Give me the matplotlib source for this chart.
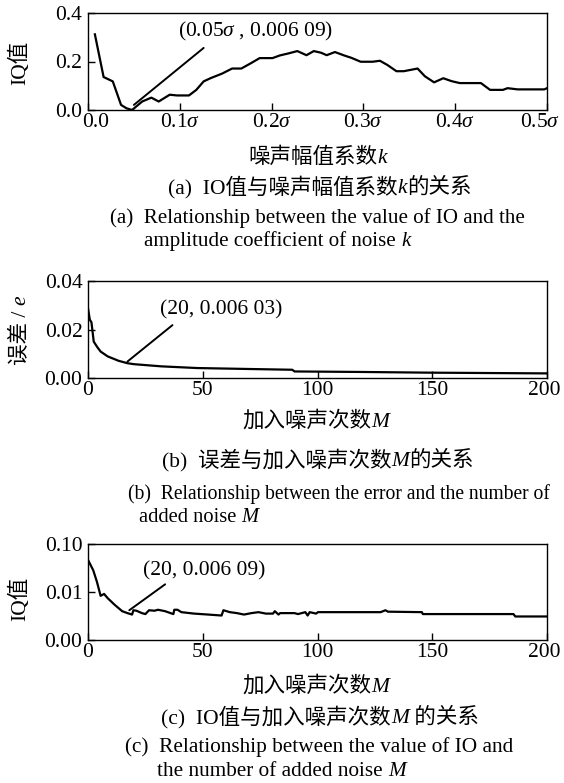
import matplotlib
matplotlib.use('Agg')
import matplotlib.pyplot as plt
from matplotlib.transforms import ScaledTranslation

W, H = 564, 783
FAMILY = ['Liberation Serif', 'Noto Sans CJK SC']
plt.rcParams['font.family'] = FAMILY
plt.rcParams['mathtext.fontset'] = 'custom'
plt.rcParams['mathtext.rm'] = 'Liberation Serif'
plt.rcParams['mathtext.it'] = 'Liberation Serif:italic'

FS = 15.5

# (a) IQ value vs noise amplitude coefficient k (in units of sigma)
k_vals = [0.0075, 0.017, 0.027, 0.036, 0.042, 0.048, 0.059, 0.069, 0.077, 0.089,
          0.097, 0.11, 0.118, 0.126, 0.134, 0.146, 0.157, 0.167, 0.177, 0.187,
          0.201, 0.209, 0.218, 0.228, 0.238, 0.246, 0.254, 0.26, 0.269, 0.279,
          0.287, 0.297, 0.31, 0.318, 0.326, 0.336, 0.344, 0.359, 0.367, 0.377,
          0.387, 0.396, 0.405, 0.428, 0.438, 0.452, 0.457, 0.468, 0.497, 0.5]
iq_k = [0.312, 0.136, 0.118, 0.021, 0.007, 0.0, 0.035, 0.051, 0.035, 0.063,
        0.06, 0.06, 0.083, 0.118, 0.132, 0.15, 0.171, 0.171, 0.192, 0.214,
        0.214, 0.225, 0.233, 0.243, 0.226, 0.243, 0.236, 0.226, 0.239, 0.225,
        0.215, 0.199, 0.199, 0.203, 0.186, 0.16, 0.16, 0.171, 0.139, 0.114,
        0.131, 0.119, 0.111, 0.111, 0.083, 0.083, 0.09, 0.085, 0.085, 0.09]
k_ticks = [0.0, 0.1, 0.2, 0.3, 0.4, 0.5]
k_labels = ['0.0', r'0.1$\sigma$', r'0.2$\sigma$', r'0.3$\sigma$', r'0.4$\sigma$', r'0.5$\sigma$']

# (b) error vs number of added noise M
m_err = [0, 0.8, 1.5, 2.5, 4, 5.5, 8.6, 13.3, 17.2, 20, 32, 47.7, 71, 89, 90, 118, 149, 200]
err = [0.0287, 0.024, 0.023, 0.015, 0.0128, 0.0109, 0.0089, 0.0071, 0.0061, 0.0057,
       0.0048, 0.0041, 0.0037, 0.0034, 0.0027, 0.0025, 0.0022, 0.0019]

# (c) IQ value vs number of added noise M
m_iq = [0, 2.3, 3.9, 5.5, 7.0, 8.6, 11.7, 14.9, 17.2, 19.2, 19.8, 21.1, 23.5, 25,
        26.6, 29, 30.5, 33.6, 37.2, 37.6, 39, 40.7, 46.2, 52.4, 58.2, 59, 61.8,
        64.9, 68, 71.2, 74.3, 77.5, 80.6, 81.4, 83, 83.7, 90, 91.5, 94.7, 95.7,
        96.6, 99.4, 100.2, 127.5, 129.6, 130.7, 145.5, 145.9, 185.4, 186.2, 200]
iq_m = [0.0167, 0.0145, 0.0121, 0.0092, 0.0096, 0.0087, 0.0073, 0.006, 0.0056, 0.0053,
        0.0062, 0.0061, 0.0056, 0.0054, 0.0062, 0.0061, 0.0063, 0.006, 0.0054, 0.0063,
        0.0063, 0.0058, 0.0055, 0.0053, 0.0051, 0.0062, 0.0058, 0.0056, 0.0053, 0.0056,
        0.0058, 0.0055, 0.0055, 0.006, 0.0053, 0.0056, 0.0056, 0.0054, 0.0058, 0.0051,
        0.0058, 0.0055, 0.0058, 0.0058, 0.0062, 0.0059, 0.0058, 0.0054, 0.0054, 0.0049,
        0.0049]
iq_m_ticks = [0.0, 0.01, 0.02]
iq_m_labels = ['0.00', '0.01', '0.10']

m_ticks = [0, 50, 100, 150, 200]

fig = plt.figure(figsize=(W / 100, H / 100), dpi=100)


def px_axes(left, top, right, bottom):
    return fig.add_axes([left / W, 1 - bottom / H, (right - left) / W, (bottom - top) / H])


def style_axes(ax):
    for s in ax.spines.values():
        s.set_linewidth(1.0)
    ax.tick_params(direction='in', length=5, width=1, top=False, right=False,
                   labelsize=FS, colors='black')
    ax.tick_params(axis='x', pad=2)
    ax.tick_params(axis='y', pad=4)


def nudge(label, dx):
    label.set_transform(label.get_transform() + ScaledTranslation(dx / 100, 0, fig.dpi_scale_trans))


def rich(x, y, pieces, size=FS, rotation=0, ha='center'):
    # x, y in pixels from top-left; y is the baseline (or baseline x when rotated)
    r = fig.canvas.get_renderer()
    texts = []
    for s, st in pieces:
        t = fig.text(0, 0, s, fontsize=size, style=st, rotation=rotation,
                     rotation_mode='anchor', ha='left', va='baseline',
                     transform=fig.dpi_scale_trans)
        texts.append(t)
    sizes = []
    for t in texts:
        bb = t.get_window_extent(r)
        sizes.append(bb.height if rotation else bb.width)
    total = sum(sizes)
    pos = x - total / 2 if ha == 'center' and not rotation else x
    if rotation:
        pos = y + total / 2
    for t, w in zip(texts, sizes):
        if rotation:
            t.set_position((x / 100, (H - pos) / 100))
            pos -= w
        else:
            t.set_position((pos / 100, (H - y) / 100))
            pos += w


# ---- (a)
ax1 = px_axes(88, 13, 547, 110)
ax1.plot(k_vals, iq_k, color='black', lw=1.6)
ax1.set_xlim(0, 0.5)
ax1.set_ylim(0, 0.4)
ax1.set_xticks(k_ticks, k_labels)
ax1.set_yticks([0, 0.2, 0.4], ['0.0', '0.2', '0.4'])
style_axes(ax1)
xl = ax1.get_xticklabels()
nudge(xl[0], 8)
nudge(xl[-1], -7)
ax1.annotate('', xy=(0.05, 0.021), xytext=(0.126, 0.256),
             arrowprops=dict(arrowstyle='-', lw=1.4, color='black',
                             shrinkA=0, shrinkB=0))
ax1.text(0.098, 0.322, r'(0.05$\sigma$ , 0.006 09)', fontsize=FS, va='center', ha='left')

rich(25, 63, [('IQ值', 'normal')], rotation=90)
rich(318, 163, [('噪声幅值系数', 'normal'), ('k', 'italic')])
rich(320, 193, [('(a)  IO值与噪声幅值系数', 'normal'), ('k', 'italic'), ('的关系', 'normal')])
rich(110, 223, [('(a)  Relationship between the value of IO and the', 'normal')], size=15.1, ha='left')
rich(144, 246, [('amplitude coefficient of noise ', 'normal'), ('k', 'italic')], size=15.1, ha='left')

# ---- (b)
ax2 = px_axes(88, 281, 547, 378)
ax2.plot(m_err, err, color='black', lw=1.6)
ax2.set_xlim(0, 200)
ax2.set_ylim(0, 0.04)
ax2.set_xticks(m_ticks)
ax2.set_yticks([0, 0.02, 0.04], ['0.00', '0.02', '0.04'])
style_axes(ax2)
nudge(ax2.get_xticklabels()[-1], -3)
ax2.annotate('', xy=(17.2, 0.0068), xytext=(36.8, 0.0218),
             arrowprops=dict(arrowstyle='-', lw=1.4, color='black',
                             shrinkA=0, shrinkB=0))
ax2.text(31.3, 0.028, '(20, 0.006 03)', fontsize=FS, va='center', ha='left')

rich(25, 330, [('误差 / ', 'normal'), ('e', 'italic')], rotation=90)
rich(316, 427, [('加入噪声次数', 'normal'), ('M', 'italic')])
rich(318, 466, [('(b)  误差与加入噪声次数', 'normal'), ('M', 'italic'), ('的关系', 'normal')])
rich(128, 499, [('(b)  Relationship between the error and the number of', 'normal')], size=14.1, ha='left')
rich(139, 522, [('added noise ', 'normal'), ('M', 'italic')], size=14.8, ha='left')

# ---- (c)
ax3 = px_axes(88, 544, 547, 640)
ax3.plot(m_iq, iq_m, color='black', lw=1.6)
ax3.set_xlim(0, 200)
ax3.set_ylim(0, 0.02)
ax3.set_xticks(m_ticks)
ax3.set_yticks(iq_m_ticks, iq_m_labels)
style_axes(ax3)
nudge(ax3.get_xticklabels()[-1], -3)
ax3.annotate('', xy=(18, 0.0062), xytext=(33.6, 0.0116),
             arrowprops=dict(arrowstyle='-', lw=1.4, color='black',
                             shrinkA=0, shrinkB=0))
ax3.text(23.9, 0.0145, '(20, 0.006 09)', fontsize=FS, va='center', ha='left')

rich(25, 599, [('IQ值', 'normal')], rotation=90)
rich(316, 692, [('加入噪声次数', 'normal'), ('M', 'italic')])
rich(320, 723, [('(c)  IO值与加入噪声次数', 'normal'), ('M', 'italic'), (' 的关系', 'normal')])
rich(125, 752, [('(c)  Relationship between the value of IO and', 'normal')], size=15.3, ha='left')
rich(157, 776, [('the number of added noise ', 'normal'), ('M', 'italic')], size=15.3, ha='left')

fig.savefig('out.png', dpi=100)
